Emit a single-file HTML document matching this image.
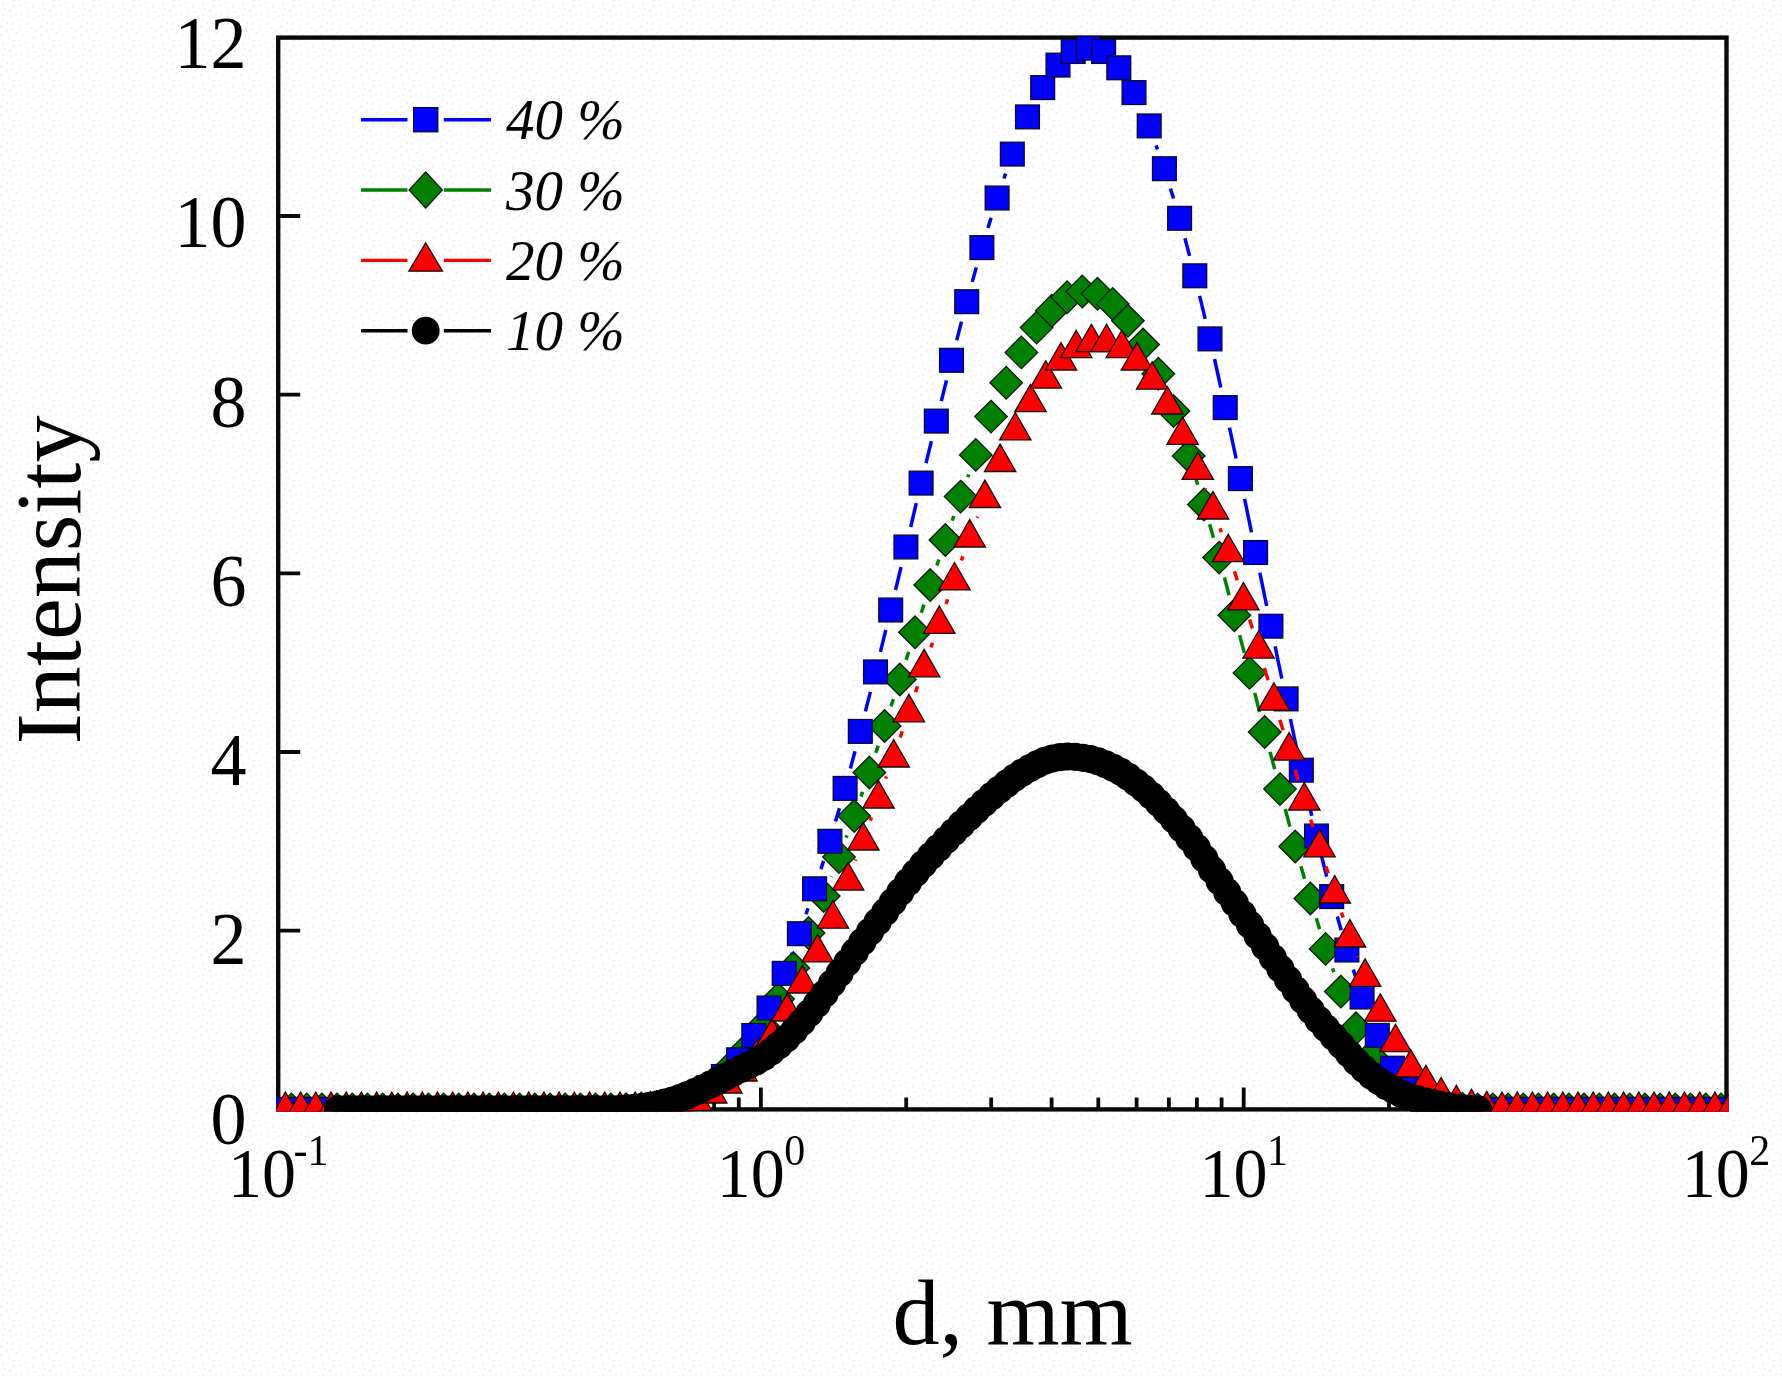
<!DOCTYPE html>
<html lang="en"><head><meta charset="utf-8"><title>Intensity vs d, mm</title>
<style>html,body{margin:0;padding:0;background:#ffffff;}body{width:1782px;height:1376px;overflow:hidden;}svg{display:block;filter:blur(0.65px);}text{font-family:"Liberation Serif",serif;fill:#000;}.leg{font-style:italic;font-size:57px;}.yt{font-size:72px;text-anchor:end;}.xt{font-size:68px;}.sup{font-size:42px;}.ttl{font-size:94px;}</style></head><body>
<svg width="1782" height="1376" viewBox="0 0 1782 1376">
<rect x="0" y="0" width="1782" height="1376" fill="#ffffff"/>
<defs><pattern id="bg" width="40" height="40" patternUnits="userSpaceOnUse"><circle cx="13.0" cy="6.0" r="1.1" fill="#ececf8"/><circle cx="26.0" cy="2.9" r="1.1" fill="#f2f3ea"/><circle cx="21.4" cy="14.6" r="1.1" fill="#ececf8"/><circle cx="2.3" cy="20.3" r="1.1" fill="#f2f3ea"/><circle cx="2.8" cy="3.6" r="1.1" fill="#ececf8"/><circle cx="17.0" cy="33.1" r="1.1" fill="#f2f3ea"/><circle cx="5.0" cy="8.9" r="1.1" fill="#ececf8"/><circle cx="34.3" cy="11.6" r="1.1" fill="#f2f3ea"/><circle cx="7.2" cy="23.3" r="1.1" fill="#ececf8"/><circle cx="27.2" cy="17.1" r="1.1" fill="#f2f3ea"/><circle cx="12.6" cy="23.4" r="1.1" fill="#ececf8"/><circle cx="31.8" cy="28.0" r="1.1" fill="#f2f3ea"/><circle cx="1.6" cy="26.7" r="1.1" fill="#ececf8"/><circle cx="27.8" cy="23.8" r="1.1" fill="#f2f3ea"/><circle cx="33.6" cy="37.8" r="1.1" fill="#ececf8"/><circle cx="19.0" cy="26.6" r="1.1" fill="#f2f3ea"/><circle cx="22.0" cy="35.3" r="1.1" fill="#ececf8"/><circle cx="11.1" cy="16.6" r="1.1" fill="#f2f3ea"/><circle cx="36.0" cy="31.2" r="1.1" fill="#ececf8"/><circle cx="4.1" cy="14.5" r="1.1" fill="#f2f3ea"/><circle cx="1.0" cy="35.0" r="1.1" fill="#ececf8"/><circle cx="18.6" cy="19.4" r="1.1" fill="#f2f3ea"/><circle cx="33.2" cy="6.5" r="1.1" fill="#ececf8"/><circle cx="21.1" cy="5.9" r="1.1" fill="#f2f3ea"/><circle cx="6.7" cy="30.9" r="1.1" fill="#ececf8"/><circle cx="33.6" cy="19.2" r="1.1" fill="#f2f3ea"/><circle cx="26.1" cy="32.0" r="1.1" fill="#ececf8"/><circle cx="38.9" cy="15.8" r="1.1" fill="#f2f3ea"/><circle cx="9.9" cy="11.1" r="1.1" fill="#ececf8"/><circle cx="8.8" cy="38.1" r="1.1" fill="#f2f3ea"/><circle cx="13.9" cy="0.7" r="1.1" fill="#ececf8"/><circle cx="16.2" cy="13.9" r="1.1" fill="#f2f3ea"/><circle cx="19.6" cy="0.1" r="1.1" fill="#ececf8"/><circle cx="27.0" cy="11.6" r="1.1" fill="#f2f3ea"/><circle cx="11.9" cy="29.6" r="1.1" fill="#ececf8"/><circle cx="38.6" cy="8.3" r="1.1" fill="#f2f3ea"/></pattern><clipPath id="clip"><rect x="276" y="35.4" width="1452.7" height="1076.2"/></clipPath></defs>
<rect x="0" y="0" width="1782" height="1376" fill="url(#bg)"/>
<g stroke="#0a0a0a" stroke-width="4.4" fill="none">
<rect x="278.2" y="37.6" width="1448.3" height="1071.8"/>
</g>
<path d="M278.2 930.7h22M278.2 752h22M278.2 573.4h22M278.2 394.7h22M278.2 216h22M423.5 1109.4v-12M508.5 1109.4v-12M568.8 1109.4v-12M615.6 1109.4v-12M653.8 1109.4v-12M686.1 1109.4v-12M714.1 1109.4v-12M738.8 1109.4v-12M760.9 1109.4v-22M906.2 1109.4v-12M991.2 1109.4v-12M1051.6 1109.4v-12M1098.3 1109.4v-12M1136.6 1109.4v-12M1168.9 1109.4v-12M1196.9 1109.4v-12M1221.6 1109.4v-12M1243.7 1109.4v-22M1389 1109.4v-12M1474 1109.4v-12M1534.3 1109.4v-12M1581.1 1109.4v-12M1619.3 1109.4v-12M1651.7 1109.4v-12M1679.7 1109.4v-12M1704.3 1109.4v-12" stroke="#0a0a0a" stroke-width="3.8" fill="none"/>
<g clip-path="url(#clip)">
<path d="M831.2 876.8L831.5 876.2M846.1 837.7L847 835.3M861 796.6L862.6 791.9M875.8 752.9L878.2 745.6M891 706.4L893.4 699.1M906.1 659.9L908.7 651.9M921.3 612.7L923.9 604.6M936.8 565.5L938.8 559.5M952.2 520.6L953.8 516M967.7 477.2L968.8 474.3M1180.1 430.5L1182.1 436.5M1194.9 475.7L1197.8 484.8M1209.6 524.3L1213.5 537.8M1224.4 577.5L1229.1 595.3M1239.6 635.1L1244.3 653M1254.7 692.9L1259.6 712M1270 751.9L1274.7 769.2M1285.2 809L1289.9 826.6M1300.9 866.3L1304.6 878.7M1316.3 918.2L1319.6 929.2M1332.5 968.3L1333.9 972.2" stroke="#008000" stroke-width="3.5" fill="none"/>
<g fill="#008000" stroke="#0c1a0c" stroke-width="1.3">
<path d="M291.5 1093.1l16.3 16.3l-16.3 16.3l-16.3 -16.3z"/>
<path d="M306.7 1093.1l16.3 16.3l-16.3 16.3l-16.3 -16.3z"/>
<path d="M321.9 1093.1l16.3 16.3l-16.3 16.3l-16.3 -16.3z"/>
<path d="M337.1 1093.1l16.3 16.3l-16.3 16.3l-16.3 -16.3z"/>
<path d="M352.3 1093.1l16.3 16.3l-16.3 16.3l-16.3 -16.3z"/>
<path d="M367.5 1093.1l16.3 16.3l-16.3 16.3l-16.3 -16.3z"/>
<path d="M382.7 1093.1l16.3 16.3l-16.3 16.3l-16.3 -16.3z"/>
<path d="M397.9 1093.1l16.3 16.3l-16.3 16.3l-16.3 -16.3z"/>
<path d="M413.2 1093.1l16.3 16.3l-16.3 16.3l-16.3 -16.3z"/>
<path d="M428.4 1093.1l16.3 16.3l-16.3 16.3l-16.3 -16.3z"/>
<path d="M443.6 1093.1l16.3 16.3l-16.3 16.3l-16.3 -16.3z"/>
<path d="M458.8 1093.1l16.3 16.3l-16.3 16.3l-16.3 -16.3z"/>
<path d="M474 1093.1l16.3 16.3l-16.3 16.3l-16.3 -16.3z"/>
<path d="M489.2 1093.1l16.3 16.3l-16.3 16.3l-16.3 -16.3z"/>
<path d="M504.4 1093.1l16.3 16.3l-16.3 16.3l-16.3 -16.3z"/>
<path d="M519.6 1093.1l16.3 16.3l-16.3 16.3l-16.3 -16.3z"/>
<path d="M534.8 1093.1l16.3 16.3l-16.3 16.3l-16.3 -16.3z"/>
<path d="M550 1093.1l16.3 16.3l-16.3 16.3l-16.3 -16.3z"/>
<path d="M565.2 1093.1l16.3 16.3l-16.3 16.3l-16.3 -16.3z"/>
<path d="M580.4 1093.1l16.3 16.3l-16.3 16.3l-16.3 -16.3z"/>
<path d="M595.6 1093.1l16.3 16.3l-16.3 16.3l-16.3 -16.3z"/>
<path d="M610.8 1093.1l16.3 16.3l-16.3 16.3l-16.3 -16.3z"/>
<path d="M626.1 1092.9l16.3 16.3l-16.3 16.3l-16.3 -16.3z"/>
<path d="M641.3 1092.2l16.3 16.3l-16.3 16.3l-16.3 -16.3z"/>
<path d="M656.5 1090.7l16.3 16.3l-16.3 16.3l-16.3 -16.3z"/>
<path d="M671.7 1087.7l16.3 16.3l-16.3 16.3l-16.3 -16.3z"/>
<path d="M686.9 1082.7l16.3 16.3l-16.3 16.3l-16.3 -16.3z"/>
<path d="M702.1 1075.2l16.3 16.3l-16.3 16.3l-16.3 -16.3z"/>
<path d="M717.3 1064.2l16.3 16.3l-16.3 16.3l-16.3 -16.3z"/>
<path d="M732.5 1048.7l16.3 16.3l-16.3 16.3l-16.3 -16.3z"/>
<path d="M747.7 1031.7l16.3 16.3l-16.3 16.3l-16.3 -16.3z"/>
<path d="M762.9 1009.7l16.3 16.3l-16.3 16.3l-16.3 -16.3z"/>
<path d="M778.1 982.7l16.3 16.3l-16.3 16.3l-16.3 -16.3z"/>
<path d="M793.3 951.7l16.3 16.3l-16.3 16.3l-16.3 -16.3z"/>
<path d="M808.5 916.7l16.3 16.3l-16.3 16.3l-16.3 -16.3z"/>
<path d="M823.7 879.7l16.3 16.3l-16.3 16.3l-16.3 -16.3z"/>
<path d="M839 840.7l16.3 16.3l-16.3 16.3l-16.3 -16.3z"/>
<path d="M854.2 799.7l16.3 16.3l-16.3 16.3l-16.3 -16.3z"/>
<path d="M869.4 756.2l16.3 16.3l-16.3 16.3l-16.3 -16.3z"/>
<path d="M884.6 709.7l16.3 16.3l-16.3 16.3l-16.3 -16.3z"/>
<path d="M899.8 663.2l16.3 16.3l-16.3 16.3l-16.3 -16.3z"/>
<path d="M915 616l16.3 16.3l-16.3 16.3l-16.3 -16.3z"/>
<path d="M930.2 568.7l16.3 16.3l-16.3 16.3l-16.3 -16.3z"/>
<path d="M945.4 523.7l16.3 16.3l-16.3 16.3l-16.3 -16.3z"/>
<path d="M960.6 480.3l16.3 16.3l-16.3 16.3l-16.3 -16.3z"/>
<path d="M975.8 438.6l16.3 16.3l-16.3 16.3l-16.3 -16.3z"/>
<path d="M991 400.3l16.3 16.3l-16.3 16.3l-16.3 -16.3z"/>
<path d="M1006.2 366.5l16.3 16.3l-16.3 16.3l-16.3 -16.3z"/>
<path d="M1021.4 336.1l16.3 16.3l-16.3 16.3l-16.3 -16.3z"/>
<path d="M1036.6 311.3l16.3 16.3l-16.3 16.3l-16.3 -16.3z"/>
<path d="M1051.8 294.4l16.3 16.3l-16.3 16.3l-16.3 -16.3z"/>
<path d="M1067.1 280.9l16.3 16.3l-16.3 16.3l-16.3 -16.3z"/>
<path d="M1082.3 275.2l16.3 16.3l-16.3 16.3l-16.3 -16.3z"/>
<path d="M1097.5 277.5l16.3 16.3l-16.3 16.3l-16.3 -16.3z"/>
<path d="M1112.7 287.6l16.3 16.3l-16.3 16.3l-16.3 -16.3z"/>
<path d="M1127.9 304.5l16.3 16.3l-16.3 16.3l-16.3 -16.3z"/>
<path d="M1143.1 328.2l16.3 16.3l-16.3 16.3l-16.3 -16.3z"/>
<path d="M1158.3 357.5l16.3 16.3l-16.3 16.3l-16.3 -16.3z"/>
<path d="M1173.5 394.7l16.3 16.3l-16.3 16.3l-16.3 -16.3z"/>
<path d="M1188.7 439.7l16.3 16.3l-16.3 16.3l-16.3 -16.3z"/>
<path d="M1203.9 488.2l16.3 16.3l-16.3 16.3l-16.3 -16.3z"/>
<path d="M1219.1 541.3l16.3 16.3l-16.3 16.3l-16.3 -16.3z"/>
<path d="M1234.3 598.9l16.3 16.3l-16.3 16.3l-16.3 -16.3z"/>
<path d="M1249.5 656.6l16.3 16.3l-16.3 16.3l-16.3 -16.3z"/>
<path d="M1264.7 715.7l16.3 16.3l-16.3 16.3l-16.3 -16.3z"/>
<path d="M1280 772.8l16.3 16.3l-16.3 16.3l-16.3 -16.3z"/>
<path d="M1295.2 830.2l16.3 16.3l-16.3 16.3l-16.3 -16.3z"/>
<path d="M1310.4 882.2l16.3 16.3l-16.3 16.3l-16.3 -16.3z"/>
<path d="M1325.6 932.6l16.3 16.3l-16.3 16.3l-16.3 -16.3z"/>
<path d="M1340.8 975.3l16.3 16.3l-16.3 16.3l-16.3 -16.3z"/>
<path d="M1356 1012l16.3 16.3l-16.3 16.3l-16.3 -16.3z"/>
<path d="M1371.2 1039.9l16.3 16.3l-16.3 16.3l-16.3 -16.3z"/>
<path d="M1386.4 1060.7l16.3 16.3l-16.3 16.3l-16.3 -16.3z"/>
<path d="M1401.6 1074.7l16.3 16.3l-16.3 16.3l-16.3 -16.3z"/>
<path d="M1416.8 1083.7l16.3 16.3l-16.3 16.3l-16.3 -16.3z"/>
<path d="M1432 1088.7l16.3 16.3l-16.3 16.3l-16.3 -16.3z"/>
<path d="M1447.2 1091.2l16.3 16.3l-16.3 16.3l-16.3 -16.3z"/>
<path d="M1462.4 1092.4l16.3 16.3l-16.3 16.3l-16.3 -16.3z"/>
<path d="M1477.6 1093.1l16.3 16.3l-16.3 16.3l-16.3 -16.3z"/>
<path d="M1492.9 1093.1l16.3 16.3l-16.3 16.3l-16.3 -16.3z"/>
<path d="M1508.1 1093.1l16.3 16.3l-16.3 16.3l-16.3 -16.3z"/>
<path d="M1523.3 1093.1l16.3 16.3l-16.3 16.3l-16.3 -16.3z"/>
<path d="M1538.5 1093.1l16.3 16.3l-16.3 16.3l-16.3 -16.3z"/>
<path d="M1553.7 1093.1l16.3 16.3l-16.3 16.3l-16.3 -16.3z"/>
<path d="M1568.9 1093.1l16.3 16.3l-16.3 16.3l-16.3 -16.3z"/>
<path d="M1584.1 1093.1l16.3 16.3l-16.3 16.3l-16.3 -16.3z"/>
<path d="M1599.3 1093.1l16.3 16.3l-16.3 16.3l-16.3 -16.3z"/>
<path d="M1614.5 1093.1l16.3 16.3l-16.3 16.3l-16.3 -16.3z"/>
<path d="M1629.7 1093.1l16.3 16.3l-16.3 16.3l-16.3 -16.3z"/>
<path d="M1644.9 1093.1l16.3 16.3l-16.3 16.3l-16.3 -16.3z"/>
<path d="M1660.1 1093.1l16.3 16.3l-16.3 16.3l-16.3 -16.3z"/>
<path d="M1675.3 1093.1l16.3 16.3l-16.3 16.3l-16.3 -16.3z"/>
<path d="M1690.5 1093.1l16.3 16.3l-16.3 16.3l-16.3 -16.3z"/>
<path d="M1705.8 1093.1l16.3 16.3l-16.3 16.3l-16.3 -16.3z"/>
<path d="M1721 1093.1l16.3 16.3l-16.3 16.3l-16.3 -16.3z"/>
<path d="M1736.2 1093.1l16.3 16.3l-16.3 16.3l-16.3 -16.3z"/>
</g>
<path d="M791.6 954.2L792.1 952.9M806 914.2L808 908.3M820.9 869.2L823.6 860.9M835.5 821.5L839.4 808.2M850.4 768.5L855 751.3M865.4 711.4L870.4 691.9M880.4 651.9L885.8 630M895.5 590L901.1 567M910.7 527L916.3 503.1M926 463.1L931.4 441.1M941.3 401.1L946.5 380.3M956.7 340.4L961.5 321.6M972.3 281.9L976.3 267.4M988 227.9L991.1 217.7M1003.9 178.5L1005.6 173.6M1156.1 145.3L1157.5 149.3M1170.4 188.4L1173.6 198.6M1184.9 238.2L1189.6 255.9M1199.6 295.8L1205.2 318.9M1214.5 359L1220.8 387.5M1229.5 427.7L1236.1 458.5M1244.6 498.8L1251.5 532.3M1259.8 572.7L1266.7 606M1275.1 646.4L1281.8 678.7M1290.4 719L1297 750.1M1305.9 790.3L1311.8 815.9M1321.5 856L1326.7 876.6M1337.3 916.4L1341.2 930.2M1353.2 969.6L1355.8 977.4" stroke="#0000ff" stroke-width="3.5" fill="none"/>
<g fill="#0000ff" stroke="#0a0a30" stroke-width="1.3">
<rect x="270.5" y="1097.5" width="23.8" height="23.8"/>
<rect x="285.7" y="1097.5" width="23.8" height="23.8"/>
<rect x="300.9" y="1097.5" width="23.8" height="23.8"/>
<rect x="316.1" y="1097.5" width="23.8" height="23.8"/>
<rect x="331.3" y="1097.5" width="23.8" height="23.8"/>
<rect x="346.5" y="1097.5" width="23.8" height="23.8"/>
<rect x="361.7" y="1097.5" width="23.8" height="23.8"/>
<rect x="376.9" y="1097.5" width="23.8" height="23.8"/>
<rect x="392.2" y="1097.5" width="23.8" height="23.8"/>
<rect x="407.4" y="1097.5" width="23.8" height="23.8"/>
<rect x="422.6" y="1097.5" width="23.8" height="23.8"/>
<rect x="437.8" y="1097.5" width="23.8" height="23.8"/>
<rect x="453" y="1097.5" width="23.8" height="23.8"/>
<rect x="468.2" y="1097.5" width="23.8" height="23.8"/>
<rect x="483.4" y="1097.5" width="23.8" height="23.8"/>
<rect x="498.6" y="1097.5" width="23.8" height="23.8"/>
<rect x="513.8" y="1097.5" width="23.8" height="23.8"/>
<rect x="529" y="1097.5" width="23.8" height="23.8"/>
<rect x="544.2" y="1097.5" width="23.8" height="23.8"/>
<rect x="559.4" y="1097.5" width="23.8" height="23.8"/>
<rect x="574.6" y="1097.5" width="23.8" height="23.8"/>
<rect x="589.8" y="1097.5" width="23.8" height="23.8"/>
<rect x="605.1" y="1097.5" width="23.8" height="23.8"/>
<rect x="620.3" y="1096.7" width="23.8" height="23.8"/>
<rect x="635.5" y="1095.4" width="23.8" height="23.8"/>
<rect x="650.7" y="1093.1" width="23.8" height="23.8"/>
<rect x="665.9" y="1089.6" width="23.8" height="23.8"/>
<rect x="681.1" y="1084.1" width="23.8" height="23.8"/>
<rect x="696.3" y="1076.1" width="23.8" height="23.8"/>
<rect x="711.5" y="1064.6" width="23.8" height="23.8"/>
<rect x="726.7" y="1047.9" width="23.8" height="23.8"/>
<rect x="741.9" y="1023.6" width="23.8" height="23.8"/>
<rect x="757.1" y="996.1" width="23.8" height="23.8"/>
<rect x="772.3" y="961.5" width="23.8" height="23.8"/>
<rect x="787.5" y="921.8" width="23.8" height="23.8"/>
<rect x="802.7" y="876.9" width="23.8" height="23.8"/>
<rect x="818" y="829.4" width="23.8" height="23.8"/>
<rect x="833.2" y="776.5" width="23.8" height="23.8"/>
<rect x="848.4" y="719.5" width="23.8" height="23.8"/>
<rect x="863.6" y="660" width="23.8" height="23.8"/>
<rect x="878.8" y="598.1" width="23.8" height="23.8"/>
<rect x="894" y="535.1" width="23.8" height="23.8"/>
<rect x="909.2" y="471.2" width="23.8" height="23.8"/>
<rect x="924.4" y="409.2" width="23.8" height="23.8"/>
<rect x="939.6" y="348.4" width="23.8" height="23.8"/>
<rect x="954.8" y="289.8" width="23.8" height="23.8"/>
<rect x="970" y="235.7" width="23.8" height="23.8"/>
<rect x="985.2" y="186.1" width="23.8" height="23.8"/>
<rect x="1000.4" y="142.2" width="23.8" height="23.8"/>
<rect x="1015.6" y="105" width="23.8" height="23.8"/>
<rect x="1030.8" y="75.7" width="23.8" height="23.8"/>
<rect x="1046.1" y="53.2" width="23.8" height="23.8"/>
<rect x="1061.3" y="39.6" width="23.8" height="23.8"/>
<rect x="1076.5" y="36.3" width="23.8" height="23.8"/>
<rect x="1091.7" y="39.6" width="23.8" height="23.8"/>
<rect x="1106.9" y="55.9" width="23.8" height="23.8"/>
<rect x="1122.1" y="80.7" width="23.8" height="23.8"/>
<rect x="1137.3" y="114" width="23.8" height="23.8"/>
<rect x="1152.5" y="156.8" width="23.8" height="23.8"/>
<rect x="1167.7" y="206.4" width="23.8" height="23.8"/>
<rect x="1182.9" y="263.9" width="23.8" height="23.8"/>
<rect x="1198.1" y="327" width="23.8" height="23.8"/>
<rect x="1213.3" y="395.7" width="23.8" height="23.8"/>
<rect x="1228.5" y="466.7" width="23.8" height="23.8"/>
<rect x="1243.7" y="540.6" width="23.8" height="23.8"/>
<rect x="1259" y="614.3" width="23.8" height="23.8"/>
<rect x="1274.2" y="687" width="23.8" height="23.8"/>
<rect x="1289.4" y="758.3" width="23.8" height="23.8"/>
<rect x="1304.6" y="824.1" width="23.8" height="23.8"/>
<rect x="1319.8" y="884.7" width="23.8" height="23.8"/>
<rect x="1335" y="938.1" width="23.8" height="23.8"/>
<rect x="1350.2" y="985.1" width="23.8" height="23.8"/>
<rect x="1365.4" y="1023.5" width="23.8" height="23.8"/>
<rect x="1380.6" y="1056.3" width="23.8" height="23.8"/>
<rect x="1395.8" y="1077.2" width="23.8" height="23.8"/>
<rect x="1411" y="1087.6" width="23.8" height="23.8"/>
<rect x="1426.2" y="1092.6" width="23.8" height="23.8"/>
<rect x="1441.4" y="1095.6" width="23.8" height="23.8"/>
<rect x="1456.6" y="1096.9" width="23.8" height="23.8"/>
<rect x="1471.9" y="1097.5" width="23.8" height="23.8"/>
<rect x="1487.1" y="1097.5" width="23.8" height="23.8"/>
<rect x="1502.3" y="1097.5" width="23.8" height="23.8"/>
<rect x="1517.5" y="1097.5" width="23.8" height="23.8"/>
<rect x="1532.7" y="1097.5" width="23.8" height="23.8"/>
<rect x="1547.9" y="1097.5" width="23.8" height="23.8"/>
<rect x="1563.1" y="1097.5" width="23.8" height="23.8"/>
<rect x="1578.3" y="1097.5" width="23.8" height="23.8"/>
<rect x="1593.5" y="1097.5" width="23.8" height="23.8"/>
<rect x="1608.7" y="1097.5" width="23.8" height="23.8"/>
<rect x="1623.9" y="1097.5" width="23.8" height="23.8"/>
<rect x="1639.1" y="1097.5" width="23.8" height="23.8"/>
<rect x="1654.3" y="1097.5" width="23.8" height="23.8"/>
<rect x="1669.5" y="1097.5" width="23.8" height="23.8"/>
<rect x="1684.8" y="1097.5" width="23.8" height="23.8"/>
<rect x="1700" y="1097.5" width="23.8" height="23.8"/>
<rect x="1715.2" y="1097.5" width="23.8" height="23.8"/>
</g>
<path d="M855.4 860.7L855.9 859.3M870.3 820.6L871.5 817.4M885.6 778.7L886.5 776.3M900.2 737.5L902.3 731.3M915.5 692.3L917.5 686.3M930.9 647.4L932.5 642.8M946.1 604L947.7 599.3M961.4 560.5L962.8 556.4M977.1 517.8L977.5 516.7M1205.2 488.6L1205.6 489.8M1220 528.4L1221.3 532.2M1234.4 571.2L1237.3 580.3M1249.6 619.5L1252.4 628.5M1264.4 667.9L1268.1 680.3M1279.9 719.8L1283.1 730.3M1295.1 769.7L1298.3 780.3M1310.6 819.6L1313.1 827.2M1325.9 866.4L1328.2 873.4M1341.4 912.5L1343.2 917.5M1357.3 956.2L1357.7 957.1" stroke="#ff0000" stroke-width="3.5" fill="none"/>
<g fill="#ff0000" stroke="#1a0505" stroke-width="1.3" stroke-linejoin="miter">
<path d="M285.4 1092l15.7 27.4h-31.4z"/>
<path d="M300.6 1092l15.7 27.4h-31.4z"/>
<path d="M315.8 1092l15.7 27.4h-31.4z"/>
<path d="M331 1092l15.7 27.4h-31.4z"/>
<path d="M346.2 1092l15.7 27.4h-31.4z"/>
<path d="M361.4 1092l15.7 27.4h-31.4z"/>
<path d="M376.6 1092l15.7 27.4h-31.4z"/>
<path d="M391.8 1092l15.7 27.4h-31.4z"/>
<path d="M407.1 1092l15.7 27.4h-31.4z"/>
<path d="M422.3 1092l15.7 27.4h-31.4z"/>
<path d="M437.5 1092l15.7 27.4h-31.4z"/>
<path d="M452.7 1092l15.7 27.4h-31.4z"/>
<path d="M467.9 1092l15.7 27.4h-31.4z"/>
<path d="M483.1 1092l15.7 27.4h-31.4z"/>
<path d="M498.3 1092l15.7 27.4h-31.4z"/>
<path d="M513.5 1092l15.7 27.4h-31.4z"/>
<path d="M528.7 1092l15.7 27.4h-31.4z"/>
<path d="M543.9 1092l15.7 27.4h-31.4z"/>
<path d="M559.1 1092l15.7 27.4h-31.4z"/>
<path d="M574.3 1092l15.7 27.4h-31.4z"/>
<path d="M589.5 1092l15.7 27.4h-31.4z"/>
<path d="M604.7 1092l15.7 27.4h-31.4z"/>
<path d="M620 1092l15.7 27.4h-31.4z"/>
<path d="M635.2 1092l15.7 27.4h-31.4z"/>
<path d="M650.4 1091.6l15.7 27.4h-31.4z"/>
<path d="M665.6 1090.6l15.7 27.4h-31.4z"/>
<path d="M680.8 1087.6l15.7 27.4h-31.4z"/>
<path d="M696 1083.1l15.7 27.4h-31.4z"/>
<path d="M711.2 1075.6l15.7 27.4h-31.4z"/>
<path d="M726.4 1065.6l15.7 27.4h-31.4z"/>
<path d="M741.6 1053.6l15.7 27.4h-31.4z"/>
<path d="M756.8 1039.6l15.7 27.4h-31.4z"/>
<path d="M772 1018.6l15.7 27.4h-31.4z"/>
<path d="M787.2 993.6l15.7 27.4h-31.4z"/>
<path d="M802.4 965.6l15.7 27.4h-31.4z"/>
<path d="M817.6 934.5l15.7 27.4h-31.4z"/>
<path d="M832.9 900.8l15.7 27.4h-31.4z"/>
<path d="M848.1 862.6l15.7 27.4h-31.4z"/>
<path d="M863.3 822.6l15.7 27.4h-31.4z"/>
<path d="M878.5 780.6l15.7 27.4h-31.4z"/>
<path d="M893.7 739.6l15.7 27.4h-31.4z"/>
<path d="M908.9 694.4l15.7 27.4h-31.4z"/>
<path d="M924.1 649.4l15.7 27.4h-31.4z"/>
<path d="M939.3 606l15.7 27.4h-31.4z"/>
<path d="M954.5 562.5l15.7 27.4h-31.4z"/>
<path d="M969.7 519.6l15.7 27.4h-31.4z"/>
<path d="M984.9 480.1l15.7 27.4h-31.4z"/>
<path d="M1000.1 444.1l15.7 27.4h-31.4z"/>
<path d="M1015.3 412.5l15.7 27.4h-31.4z"/>
<path d="M1030.5 384.3l15.7 27.4h-31.4z"/>
<path d="M1045.8 360.7l15.7 27.4h-31.4z"/>
<path d="M1061 342.6l15.7 27.4h-31.4z"/>
<path d="M1076.2 330.3l15.7 27.4h-31.4z"/>
<path d="M1091.4 324.2l15.7 27.4h-31.4z"/>
<path d="M1106.6 324.2l15.7 27.4h-31.4z"/>
<path d="M1121.8 330.3l15.7 27.4h-31.4z"/>
<path d="M1137 342.6l15.7 27.4h-31.4z"/>
<path d="M1152.2 361.8l15.7 27.4h-31.4z"/>
<path d="M1167.4 386.6l15.7 27.4h-31.4z"/>
<path d="M1182.6 417l15.7 27.4h-31.4z"/>
<path d="M1197.8 452l15.7 27.4h-31.4z"/>
<path d="M1213 491.6l15.7 27.4h-31.4z"/>
<path d="M1228.2 534.2l15.7 27.4h-31.4z"/>
<path d="M1243.4 582.5l15.7 27.4h-31.4z"/>
<path d="M1258.6 630.7l15.7 27.4h-31.4z"/>
<path d="M1273.9 682.7l15.7 27.4h-31.4z"/>
<path d="M1289.1 732.6l15.7 27.4h-31.4z"/>
<path d="M1304.3 782.6l15.7 27.4h-31.4z"/>
<path d="M1319.5 829.4l15.7 27.4h-31.4z"/>
<path d="M1334.7 875.6l15.7 27.4h-31.4z"/>
<path d="M1349.9 919.6l15.7 27.4h-31.4z"/>
<path d="M1365.1 958.9l15.7 27.4h-31.4z"/>
<path d="M1380.3 993.8l15.7 27.4h-31.4z"/>
<path d="M1395.5 1024.3l15.7 27.4h-31.4z"/>
<path d="M1410.7 1049.6l15.7 27.4h-31.4z"/>
<path d="M1425.9 1065.3l15.7 27.4h-31.4z"/>
<path d="M1441.1 1077.5l15.7 27.4h-31.4z"/>
<path d="M1456.3 1085.3l15.7 27.4h-31.4z"/>
<path d="M1471.5 1089.2l15.7 27.4h-31.4z"/>
<path d="M1486.8 1091.4l15.7 27.4h-31.4z"/>
<path d="M1502 1092l15.7 27.4h-31.4z"/>
<path d="M1517.2 1092l15.7 27.4h-31.4z"/>
<path d="M1532.4 1092l15.7 27.4h-31.4z"/>
<path d="M1547.6 1092l15.7 27.4h-31.4z"/>
<path d="M1562.8 1092l15.7 27.4h-31.4z"/>
<path d="M1578 1092l15.7 27.4h-31.4z"/>
<path d="M1593.2 1092l15.7 27.4h-31.4z"/>
<path d="M1608.4 1092l15.7 27.4h-31.4z"/>
<path d="M1623.6 1092l15.7 27.4h-31.4z"/>
<path d="M1638.8 1092l15.7 27.4h-31.4z"/>
<path d="M1654 1092l15.7 27.4h-31.4z"/>
<path d="M1669.2 1092l15.7 27.4h-31.4z"/>
<path d="M1684.4 1092l15.7 27.4h-31.4z"/>
<path d="M1699.7 1092l15.7 27.4h-31.4z"/>
<path d="M1714.9 1092l15.7 27.4h-31.4z"/>
<path d="M1730.1 1092l15.7 27.4h-31.4z"/>
</g>
<g fill="#000">
<circle cx="338" cy="1109.4" r="14.1"/>
<circle cx="345.6" cy="1109.4" r="14.1"/>
<circle cx="353.2" cy="1109.4" r="14.1"/>
<circle cx="360.8" cy="1109.4" r="14.1"/>
<circle cx="368.4" cy="1109.4" r="14.1"/>
<circle cx="376" cy="1109.4" r="14.1"/>
<circle cx="383.6" cy="1109.4" r="14.1"/>
<circle cx="391.2" cy="1109.4" r="14.1"/>
<circle cx="398.8" cy="1109.4" r="14.1"/>
<circle cx="406.4" cy="1109.4" r="14.1"/>
<circle cx="414" cy="1109.4" r="14.1"/>
<circle cx="421.6" cy="1109.4" r="14.1"/>
<circle cx="429.2" cy="1109.4" r="14.1"/>
<circle cx="436.8" cy="1109.4" r="14.1"/>
<circle cx="444.4" cy="1109.4" r="14.1"/>
<circle cx="452" cy="1109.4" r="14.1"/>
<circle cx="459.6" cy="1109.4" r="14.1"/>
<circle cx="467.2" cy="1109.4" r="14.1"/>
<circle cx="474.8" cy="1109.4" r="14.1"/>
<circle cx="482.4" cy="1109.4" r="14.1"/>
<circle cx="490" cy="1109.4" r="14.1"/>
<circle cx="497.6" cy="1109.4" r="14.1"/>
<circle cx="505.2" cy="1109.4" r="14.1"/>
<circle cx="512.8" cy="1109.4" r="14.1"/>
<circle cx="520.4" cy="1109.4" r="14.1"/>
<circle cx="528" cy="1109.4" r="14.1"/>
<circle cx="535.6" cy="1109.4" r="14.1"/>
<circle cx="543.2" cy="1109.4" r="14.1"/>
<circle cx="550.8" cy="1109.4" r="14.1"/>
<circle cx="558.4" cy="1109.4" r="14.1"/>
<circle cx="566" cy="1109.4" r="14.1"/>
<circle cx="573.6" cy="1109.4" r="14.1"/>
<circle cx="581.2" cy="1109.4" r="14.1"/>
<circle cx="588.8" cy="1109.4" r="14.1"/>
<circle cx="596.4" cy="1109.4" r="14.1"/>
<circle cx="604" cy="1109.4" r="14.1"/>
<circle cx="611.6" cy="1109.4" r="14.1"/>
<circle cx="619.2" cy="1109.1" r="14.1"/>
<circle cx="626.8" cy="1108.6" r="14.1"/>
<circle cx="634.4" cy="1107.9" r="14.1"/>
<circle cx="642" cy="1107" r="14.1"/>
<circle cx="649.6" cy="1105.9" r="14.1"/>
<circle cx="657.2" cy="1104.5" r="14.1"/>
<circle cx="664.8" cy="1102.7" r="14.1"/>
<circle cx="672.4" cy="1100.7" r="14.1"/>
<circle cx="680" cy="1098.1" r="14.1"/>
<circle cx="687.6" cy="1095.2" r="14.1"/>
<circle cx="695.2" cy="1091.9" r="14.1"/>
<circle cx="702.8" cy="1088.3" r="14.1"/>
<circle cx="710.4" cy="1084.5" r="14.1"/>
<circle cx="718" cy="1080.7" r="14.1"/>
<circle cx="725.6" cy="1076.8" r="14.1"/>
<circle cx="733.2" cy="1072.9" r="14.1"/>
<circle cx="740.8" cy="1069.1" r="14.1"/>
<circle cx="748.4" cy="1065.4" r="14.1"/>
<circle cx="756" cy="1061.5" r="14.1"/>
<circle cx="763.6" cy="1057" r="14.1"/>
<circle cx="771.2" cy="1051.6" r="14.1"/>
<circle cx="778.8" cy="1045.3" r="14.1"/>
<circle cx="786.4" cy="1038.5" r="14.1"/>
<circle cx="794" cy="1030.9" r="14.1"/>
<circle cx="801.6" cy="1022.4" r="14.1"/>
<circle cx="809.2" cy="1013.4" r="14.1"/>
<circle cx="816.8" cy="1004" r="14.1"/>
<circle cx="824.4" cy="993.9" r="14.1"/>
<circle cx="832" cy="983.5" r="14.1"/>
<circle cx="839.6" cy="973.2" r="14.1"/>
<circle cx="847.2" cy="962.6" r="14.1"/>
<circle cx="854.8" cy="952.1" r="14.1"/>
<circle cx="862.4" cy="941.8" r="14.1"/>
<circle cx="870" cy="931.8" r="14.1"/>
<circle cx="877.6" cy="921.9" r="14.1"/>
<circle cx="885.2" cy="912.1" r="14.1"/>
<circle cx="892.8" cy="902" r="14.1"/>
<circle cx="900.4" cy="892" r="14.1"/>
<circle cx="908" cy="882.2" r="14.1"/>
<circle cx="915.6" cy="873" r="14.1"/>
<circle cx="923.2" cy="864.3" r="14.1"/>
<circle cx="930.8" cy="856" r="14.1"/>
<circle cx="938.4" cy="848" r="14.1"/>
<circle cx="946" cy="840.1" r="14.1"/>
<circle cx="953.6" cy="832.3" r="14.1"/>
<circle cx="961.2" cy="824.7" r="14.1"/>
<circle cx="968.8" cy="817.4" r="14.1"/>
<circle cx="976.4" cy="810.1" r="14.1"/>
<circle cx="984" cy="803" r="14.1"/>
<circle cx="991.6" cy="796.2" r="14.1"/>
<circle cx="999.2" cy="789.8" r="14.1"/>
<circle cx="1006.8" cy="783.7" r="14.1"/>
<circle cx="1014.4" cy="777.9" r="14.1"/>
<circle cx="1022" cy="772.8" r="14.1"/>
<circle cx="1029.6" cy="768.4" r="14.1"/>
<circle cx="1037.2" cy="764.3" r="14.1"/>
<circle cx="1044.8" cy="760.8" r="14.1"/>
<circle cx="1052.4" cy="758.6" r="14.1"/>
<circle cx="1060" cy="757.2" r="14.1"/>
<circle cx="1067.6" cy="756.5" r="14.1"/>
<circle cx="1075.2" cy="756.9" r="14.1"/>
<circle cx="1082.8" cy="757.8" r="14.1"/>
<circle cx="1090.4" cy="759.1" r="14.1"/>
<circle cx="1098" cy="761.4" r="14.1"/>
<circle cx="1105.6" cy="764.4" r="14.1"/>
<circle cx="1113.2" cy="767.8" r="14.1"/>
<circle cx="1120.8" cy="771.9" r="14.1"/>
<circle cx="1128.4" cy="776.9" r="14.1"/>
<circle cx="1136" cy="782.5" r="14.1"/>
<circle cx="1143.6" cy="788.6" r="14.1"/>
<circle cx="1151.2" cy="795.5" r="14.1"/>
<circle cx="1158.8" cy="803.1" r="14.1"/>
<circle cx="1166.4" cy="811.1" r="14.1"/>
<circle cx="1174" cy="819.6" r="14.1"/>
<circle cx="1181.6" cy="828.5" r="14.1"/>
<circle cx="1189.2" cy="838" r="14.1"/>
<circle cx="1196.8" cy="847.9" r="14.1"/>
<circle cx="1204.4" cy="858.7" r="14.1"/>
<circle cx="1212" cy="869.9" r="14.1"/>
<circle cx="1219.6" cy="881.2" r="14.1"/>
<circle cx="1227.2" cy="892.2" r="14.1"/>
<circle cx="1234.8" cy="903.1" r="14.1"/>
<circle cx="1242.4" cy="914" r="14.1"/>
<circle cx="1250" cy="924.9" r="14.1"/>
<circle cx="1257.6" cy="935.8" r="14.1"/>
<circle cx="1265.2" cy="946.8" r="14.1"/>
<circle cx="1272.8" cy="957.8" r="14.1"/>
<circle cx="1280.4" cy="968.7" r="14.1"/>
<circle cx="1288" cy="979.5" r="14.1"/>
<circle cx="1295.6" cy="990" r="14.1"/>
<circle cx="1303.2" cy="1000.4" r="14.1"/>
<circle cx="1310.8" cy="1010.4" r="14.1"/>
<circle cx="1318.4" cy="1019.8" r="14.1"/>
<circle cx="1326" cy="1028.4" r="14.1"/>
<circle cx="1333.6" cy="1036.7" r="14.1"/>
<circle cx="1341.2" cy="1045.1" r="14.1"/>
<circle cx="1348.8" cy="1053.6" r="14.1"/>
<circle cx="1356.4" cy="1061.8" r="14.1"/>
<circle cx="1364" cy="1069" r="14.1"/>
<circle cx="1371.6" cy="1075.7" r="14.1"/>
<circle cx="1379.2" cy="1081.4" r="14.1"/>
<circle cx="1386.8" cy="1086.3" r="14.1"/>
<circle cx="1394.4" cy="1090.6" r="14.1"/>
<circle cx="1402" cy="1094.2" r="14.1"/>
<circle cx="1409.6" cy="1097" r="14.1"/>
<circle cx="1417.2" cy="1099.4" r="14.1"/>
<circle cx="1424.8" cy="1101.4" r="14.1"/>
<circle cx="1432.4" cy="1103.2" r="14.1"/>
<circle cx="1440" cy="1104.9" r="14.1"/>
<circle cx="1447.6" cy="1106.4" r="14.1"/>
<circle cx="1455.2" cy="1107.6" r="14.1"/>
<circle cx="1462.8" cy="1108.4" r="14.1"/>
<circle cx="1470.4" cy="1109" r="14.1"/>
<circle cx="1478" cy="1109.4" r="14.1"/>
</g>
</g>
<path d="M361 119.7H407.5M443.8 119.7H491" stroke="#0000ff" stroke-width="3.4" fill="none"/>
<g fill="#0000ff" stroke="#0a0a30" stroke-width="1.3"><rect x="413.6" y="107.6" width="24.2" height="24.2"/></g>
<text class="leg" x="506" y="139.2">40 %</text>
<path d="M361 190H407.5M443.8 190H491" stroke="#008000" stroke-width="3.4" fill="none"/>
<g fill="#008000" stroke="#0c1a0c" stroke-width="1.3"><path d="M425.7 172l16.6 18l-16.6 18l-16.6 -18z"/></g>
<text class="leg" x="506" y="209.5">30 %</text>
<path d="M361 260.4H407.5M443.8 260.4H491" stroke="#ff0000" stroke-width="3.4" fill="none"/>
<g fill="#ff0000" stroke="#1a0505" stroke-width="1.3"><path d="M425.7 242.8l16.8 28.4h-33.6z"/></g>
<text class="leg" x="506" y="279.9">20 %</text>
<path d="M361 330.7H407.5M443.8 330.7H491" stroke="#000000" stroke-width="3.4" fill="none"/>
<g fill="#000"><circle cx="425.7" cy="330.7" r="13.9"/></g>
<text class="leg" x="506" y="350.2">10 %</text>
<text class="yt" transform="translate(246.5 67.7) scale(1 1.04)">12</text>
<text class="yt" transform="translate(246.5 247) scale(1 1.04)">10</text>
<text class="yt" transform="translate(246.5 426.5) scale(1 1.04)">8</text>
<text class="yt" transform="translate(246.5 605.5) scale(1 1.04)">6</text>
<text class="yt" transform="translate(246.5 784.9) scale(1 1.04)">4</text>
<text class="yt" transform="translate(246.5 964) scale(1 1.04)">2</text>
<text class="yt" transform="translate(246.5 1143.6) scale(1 1.04)">0</text>
<text class="xt" transform="translate(228.1 1197.2) scale(1 1.04)"><tspan>10</tspan><tspan class="sup" dy="-30.8" dx="-2.5">-1</tspan></text>
<text class="xt" transform="translate(716.8 1197.2) scale(1 1.04)"><tspan>10</tspan><tspan class="sup" dy="-30.8" dx="-0.5">0</tspan></text>
<text class="xt" transform="translate(1199.5 1197.2) scale(1 1.04)"><tspan>10</tspan><tspan class="sup" dy="-30.8" dx="-0.5">1</tspan></text>
<text class="xt" transform="translate(1681.7 1197.2) scale(1 1.04)"><tspan>10</tspan><tspan class="sup" dy="-30.8" dx="-0.5">2</tspan></text>
<text class="ttl" x="892.5" y="1343.5">d, mm</text>
<text class="ttl" transform="translate(80.2 744.5) rotate(-90)">Intensity</text>
</svg></body></html>
